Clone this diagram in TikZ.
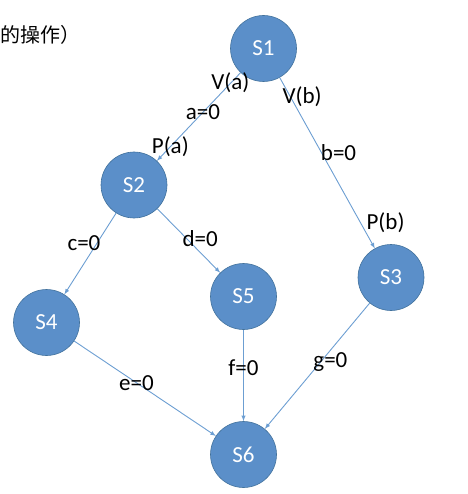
\documentclass[tikz,border=0pt]{standalone}
\usepackage{fontspec}
\setmainfont{Carlito}
\newfontfamily\cjk{Noto Sans CJK SC}
\usepackage{tikz}
\usetikzlibrary{arrows}
\tikzset{>=latex}
\definecolor{stateblue}{RGB}{91,143,201}
\definecolor{stateedge}{RGB}{65,113,156}
\definecolor{linkblue}{RGB}{108,158,210}

\begin{document}
\begin{tikzpicture}[x=1pt, y=-1pt]
                % s = state circle, lbl = text on a link
                \tikzstyle{s}=[circle, fill=stateblue, draw=stateedge, line width=0.6pt, minimum size=66pt, inner sep=0pt, text=white, font=\fontsize{23}{27}\selectfont]
                \tikzstyle{lbl}=[inner sep=0pt, text=black, font=\fontsize{23}{27}\selectfont]
                \tikzstyle{link}=[->, linkblue, line width=0.9pt]
                \useasboundingbox (0, 0) rectangle (467, 494);

                \node[anchor=west, inner sep=0pt, font=\cjk\fontsize{20}{24}\selectfont] (title) at (0.5, 35) {的操作）};

                \node[s] (S1) at (263.5, 48.5) {S1};
                \node[s] (S2) at (134, 185) {S2};
                \node[s] (S3) at (391, 277.5) {S3};
                \node[s] (S4) at (46.5, 322.5) {S4};
                \node[s] (S5) at (243.5, 296.5) {S5};
                \node[s] (S6) at (243.5, 454.5) {S6};

                \draw[link] (S1) -- (S2)
                    node[lbl, pos=0.11, xshift=-1pt] {V(a)}
                    node[lbl, pos=0.45] {a=0}
                    node[lbl, pos=0.84] {P(a)};
                \draw[link] (S1) -- (S3)
                    node[lbl, pos=0.11, xshift=12pt] {V(b)}
                    node[lbl, pos=0.44, xshift=17pt] {b=0}
                    node[lbl, pos=0.85, xshift=25pt] {P(b)};

                \draw[link] (S2) -- (S4) node[lbl, pos=0.37, xshift=-13pt] {c=0};
                \draw[link] (S2) -- (S5) node[lbl, pos=0.46, xshift=14pt] {d=0};

                \draw[link] (S4) -- (S6) node[lbl, pos=0.44] {e=0};
                \draw[link] (S5) -- (S6) node[lbl, pos=0.41] {f=0};
                \draw[link] (S3) -- (S6) node[lbl, pos=0.47, xshift=10pt] {g=0};

        \end{tikzpicture}
\end{document}
